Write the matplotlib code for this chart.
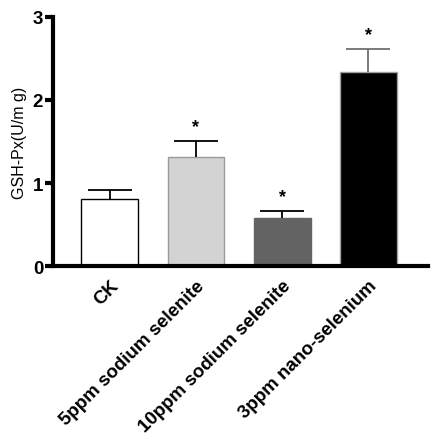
import matplotlib
matplotlib.use("Agg")
import matplotlib.pyplot as plt
import numpy as np

categories = ["CK", "5ppm sodium selenite", "10ppm sodium selenite", "3ppm nano-selenium"]
means = [0.81, 1.31, 0.58, 2.34]
errors = [0.10, 0.20, 0.08, 0.27]
signif = ["", "*", "*", "*"]
y_ticks = [0, 1, 2, 3]

face_colors = ["#ffffff", "#d3d3d3", "#636363", "#000000"]
edge_colors = ["#000000", "#9a9a9a", "#636363", "#a0a0a0"]
err_colors = ["#000000", "#000000", "#000000", "#707070"]

plt.rcParams['font.family'] = ['Liberation Sans', 'DejaVu Sans']

fig = plt.figure(figsize=(4.37, 4.35), dpi=100)
ax = fig.add_axes([0.121, 0.386, 0.858, 0.573])

x = np.arange(len(categories))
for i in range(len(categories)):
    ax.bar(x[i], means[i], width=0.66, color=face_colors[i], edgecolor=edge_colors[i],
           linewidth=1.0, zorder=2)
    _, caps, _ = ax.errorbar(x[i], means[i], yerr=[[0], [errors[i]]], fmt='none',
                             ecolor=err_colors[i], elinewidth=1.3, capsize=16,
                             capthick=1.3, zorder=3)
    caps[0].set_visible(False)
    if signif[i]:
        ax.text(x[i], means[i] + errors[i] + 0.07, signif[i], ha='center', va='bottom',
                fontsize=13, fontweight='bold')

ax.set_xlim(-0.66, 3.69)
ax.set_ylim(0, 3)
ax.set_yticks(y_ticks)
ax.set_yticklabels([str(t) for t in y_ticks], fontsize=13.5, fontweight='bold')
ax.set_xticks(x)
ax.set_xticklabels(categories, rotation=45, ha='right', rotation_mode='anchor',
                   fontsize=13.5, fontweight='bold')
ax.tick_params(axis='x', length=0, pad=8)
ax.tick_params(axis='y', length=6, width=3, pad=1)
for s in ['top', 'right']:
    ax.spines[s].set_visible(False)
for s in ['left', 'bottom']:
    ax.spines[s].set_linewidth(3)
ax.set_ylabel("GSH-Px(U/m g)", fontsize=11.5, labelpad=4)

fig.savefig("out.png", dpi=100)
